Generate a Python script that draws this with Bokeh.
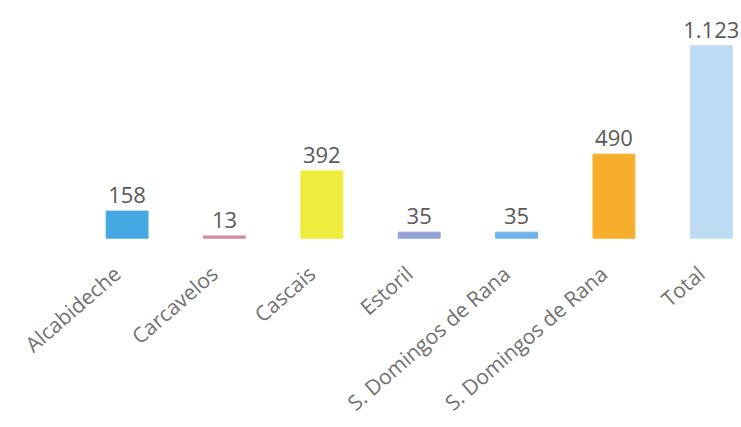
import math
from bokeh.plotting import figure
from bokeh.models import ColumnDataSource, Range1d, LabelSet
from bokeh.core.properties import value
from bokeh.embed import file_html
from bokeh.resources import INLINE

categories = ["Alcabideche", "Carcavelos", "Cascais", "Estoril",
              "S. Domingos de Rana", "S. Domingos de Rana", "Total"]
values = [158, 13, 392, 35, 35, 490, 1123]
value_labels = ["158", "13", "392", "35", "35", "490", "1.123"]
colors = ["#45a8e2", "#d9899c", "#eeec3c", "#93a3da", "#6db4ea", "#f7ae2a", "#bcdcf4"]

xs = list(range(len(categories)))
src = ColumnDataSource(dict(x=xs, top=values, lab=value_labels, color=colors,
                            cat=categories, base=[0] * len(xs)))

# the frame covers the whole page; the space below the zero line holds the category labels
p = figure(width=741, height=427, output_backend="svg", toolbar_location=None,
           x_range=Range1d(-1.30, 6.31), y_range=Range1d(-1105, 1387),
           min_border_left=0, min_border_right=0, min_border_top=0, min_border_bottom=0)
p.vbar(x="x", top="top", bottom=0, width=0.43, color="color", source=src)
p.add_layout(LabelSet(x="x", y="top", text="lab", source=src, text_align="center",
                      text_baseline="bottom", y_offset=8, text_font=value("Open Sans"),
                      text_font_size="22px", text_color="#595959"))
p.add_layout(LabelSet(x="x", y="base", text="cat", source=src, text_align="right",
                      text_baseline="middle", angle=math.radians(41),
                      x_offset=-10, y_offset=-32, text_font=value("Open Sans"),
                      text_font_size="21px", text_color="#707070"))

p.xaxis.visible = False
p.yaxis.visible = False
p.xgrid.visible = False
p.ygrid.visible = False
p.outline_line_color = None

open("out.html", "w").write(file_html(p, INLINE))
